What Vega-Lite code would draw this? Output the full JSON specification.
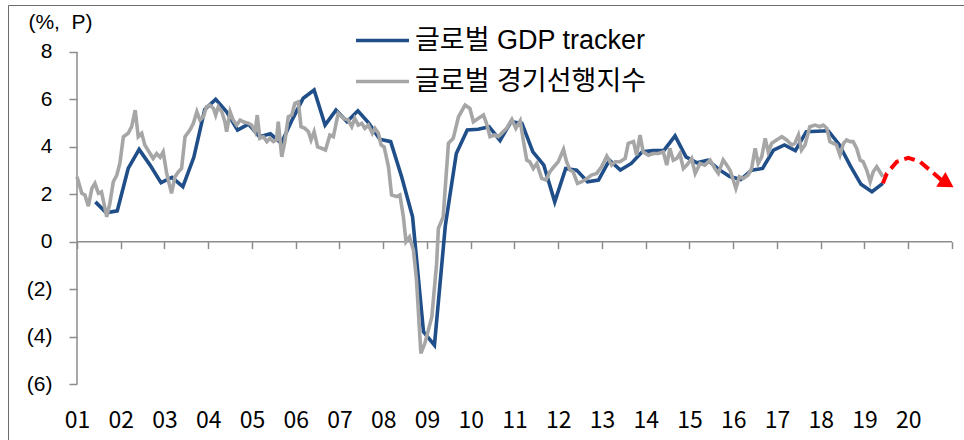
{
  "$schema": "https://vega.github.io/schema/vega-lite/v6.json",
  "width": 956,
  "height": 435,
  "autosize": {"type": "none"},
  "padding": {"left": 8, "top": 5, "right": 0, "bottom": 0},
  "background": "white",
  "config": {"view": {"stroke": "#6b6b6b", "strokeWidth": 1}},
  "datasets": {
    "gdp": [
      {"t": 2001.42, "v": 1.68}, {"t": 2001.67, "v": 1.22}, {"t": 2001.92, "v": 1.30},
      {"t": 2002.17, "v": 3.09}, {"t": 2002.42, "v": 3.89}, {"t": 2002.67, "v": 3.23}, {"t": 2002.92, "v": 2.49},
      {"t": 2003.17, "v": 2.71}, {"t": 2003.42, "v": 2.32}, {"t": 2003.67, "v": 3.56}, {"t": 2003.92, "v": 5.58},
      {"t": 2004.17, "v": 6.00}, {"t": 2004.42, "v": 5.48}, {"t": 2004.67, "v": 4.71}, {"t": 2004.92, "v": 4.96},
      {"t": 2005.17, "v": 4.43}, {"t": 2005.42, "v": 4.55}, {"t": 2005.67, "v": 4.15}, {"t": 2005.92, "v": 5.15},
      {"t": 2006.17, "v": 6.05}, {"t": 2006.42, "v": 6.40}, {"t": 2006.67, "v": 4.92}, {"t": 2006.92, "v": 5.55},
      {"t": 2007.17, "v": 5.06}, {"t": 2007.42, "v": 5.52}, {"t": 2007.67, "v": 5.00}, {"t": 2007.92, "v": 4.32},
      {"t": 2008.17, "v": 4.22}, {"t": 2008.42, "v": 2.74}, {"t": 2008.67, "v": 1.05}, {"t": 2008.92, "v": -3.80},
      {"t": 2009.17, "v": -4.36}, {"t": 2009.42, "v": 0.70}, {"t": 2009.67, "v": 3.72}, {"t": 2009.92, "v": 4.71},
      {"t": 2010.17, "v": 4.74}, {"t": 2010.42, "v": 4.85}, {"t": 2010.67, "v": 4.27}, {"t": 2010.92, "v": 5.06},
      {"t": 2011.17, "v": 4.99}, {"t": 2011.42, "v": 3.79}, {"t": 2011.67, "v": 3.23}, {"t": 2011.92, "v": 1.68},
      {"t": 2012.17, "v": 3.09}, {"t": 2012.42, "v": 3.02}, {"t": 2012.67, "v": 2.53}, {"t": 2012.92, "v": 2.60},
      {"t": 2013.17, "v": 3.44}, {"t": 2013.42, "v": 3.02}, {"t": 2013.67, "v": 3.30}, {"t": 2013.92, "v": 3.79},
      {"t": 2014.17, "v": 3.84}, {"t": 2014.42, "v": 3.86}, {"t": 2014.67, "v": 4.46}, {"t": 2014.92, "v": 3.58},
      {"t": 2015.17, "v": 3.33}, {"t": 2015.42, "v": 3.44}, {"t": 2015.67, "v": 3.05}, {"t": 2015.92, "v": 2.75},
      {"t": 2016.17, "v": 2.62}, {"t": 2016.42, "v": 3.02}, {"t": 2016.67, "v": 3.09}, {"t": 2016.92, "v": 3.86},
      {"t": 2017.17, "v": 4.08}, {"t": 2017.42, "v": 3.84}, {"t": 2017.67, "v": 4.64}, {"t": 2017.92, "v": 4.66},
      {"t": 2018.17, "v": 4.68}, {"t": 2018.42, "v": 4.10}, {"t": 2018.67, "v": 3.22}, {"t": 2018.92, "v": 2.42},
      {"t": 2019.17, "v": 2.11}, {"t": 2019.42, "v": 2.46}
    ],
    "lei": [
      {"t": 2001.00, "v": 2.74}, {"t": 2001.11, "v": 2.04}, {"t": 2001.18, "v": 1.97}, {"t": 2001.26, "v": 1.50},
      {"t": 2001.34, "v": 2.25}, {"t": 2001.41, "v": 2.46}, {"t": 2001.49, "v": 2.04}, {"t": 2001.56, "v": 2.10},
      {"t": 2001.60, "v": 1.75}, {"t": 2001.68, "v": 1.05}, {"t": 2001.75, "v": 1.60}, {"t": 2001.83, "v": 2.53},
      {"t": 2001.91, "v": 2.81}, {"t": 2001.98, "v": 3.30}, {"t": 2002.06, "v": 4.43}, {"t": 2002.17, "v": 4.57},
      {"t": 2002.25, "v": 4.85}, {"t": 2002.33, "v": 5.55}, {"t": 2002.40, "v": 4.43}, {"t": 2002.48, "v": 4.57},
      {"t": 2002.55, "v": 4.08}, {"t": 2002.67, "v": 3.72}, {"t": 2002.74, "v": 3.51}, {"t": 2002.82, "v": 3.72},
      {"t": 2002.90, "v": 3.56}, {"t": 2002.97, "v": 3.79}, {"t": 2003.05, "v": 2.88}, {"t": 2003.16, "v": 2.04},
      {"t": 2003.24, "v": 2.74}, {"t": 2003.32, "v": 2.95}, {"t": 2003.39, "v": 3.09}, {"t": 2003.47, "v": 4.43},
      {"t": 2003.58, "v": 4.71}, {"t": 2003.66, "v": 4.99}, {"t": 2003.74, "v": 5.48}, {"t": 2003.81, "v": 5.13},
      {"t": 2003.89, "v": 5.27}, {"t": 2003.96, "v": 5.69}, {"t": 2004.04, "v": 5.76}, {"t": 2004.12, "v": 5.62},
      {"t": 2004.17, "v": 5.34}, {"t": 2004.23, "v": 5.69}, {"t": 2004.31, "v": 5.48}, {"t": 2004.38, "v": 5.06},
      {"t": 2004.42, "v": 4.64}, {"t": 2004.50, "v": 5.48}, {"t": 2004.57, "v": 5.13}, {"t": 2004.65, "v": 4.92},
      {"t": 2004.73, "v": 5.13}, {"t": 2004.80, "v": 5.06}, {"t": 2004.92, "v": 4.99}, {"t": 2004.99, "v": 4.92},
      {"t": 2005.07, "v": 4.64}, {"t": 2005.12, "v": 5.34}, {"t": 2005.18, "v": 4.36}, {"t": 2005.26, "v": 4.43},
      {"t": 2005.34, "v": 4.22}, {"t": 2005.41, "v": 4.36}, {"t": 2005.49, "v": 4.22}, {"t": 2005.56, "v": 4.29},
      {"t": 2005.60, "v": 5.06}, {"t": 2005.68, "v": 3.58}, {"t": 2005.75, "v": 4.22}, {"t": 2005.83, "v": 5.27},
      {"t": 2005.91, "v": 5.34}, {"t": 2005.98, "v": 5.84}, {"t": 2006.06, "v": 5.90}, {"t": 2006.12, "v": 4.85},
      {"t": 2006.21, "v": 4.78}, {"t": 2006.29, "v": 4.64}, {"t": 2006.35, "v": 4.29}, {"t": 2006.42, "v": 4.64},
      {"t": 2006.50, "v": 4.00}, {"t": 2006.59, "v": 3.94}, {"t": 2006.68, "v": 3.87}, {"t": 2006.78, "v": 4.50},
      {"t": 2006.86, "v": 4.43}, {"t": 2006.97, "v": 5.41}, {"t": 2007.09, "v": 5.20}, {"t": 2007.20, "v": 5.13},
      {"t": 2007.28, "v": 4.85}, {"t": 2007.35, "v": 5.20}, {"t": 2007.43, "v": 4.92}, {"t": 2007.51, "v": 4.99},
      {"t": 2007.58, "v": 4.78}, {"t": 2007.66, "v": 4.92}, {"t": 2007.75, "v": 4.57}, {"t": 2007.81, "v": 4.78},
      {"t": 2007.89, "v": 4.57}, {"t": 2007.95, "v": 4.08}, {"t": 2008.02, "v": 4.00}, {"t": 2008.12, "v": 3.16},
      {"t": 2008.19, "v": 1.97}, {"t": 2008.31, "v": 1.90}, {"t": 2008.38, "v": 1.97}, {"t": 2008.46, "v": 1.05},
      {"t": 2008.52, "v": 0.00}, {"t": 2008.60, "v": 0.20}, {"t": 2008.69, "v": -0.35}, {"t": 2008.76, "v": -1.62},
      {"t": 2008.86, "v": -4.71}, {"t": 2008.95, "v": -4.29}, {"t": 2009.11, "v": -3.17}, {"t": 2009.22, "v": -0.92},
      {"t": 2009.26, "v": 0.56}, {"t": 2009.37, "v": 1.05}, {"t": 2009.49, "v": 4.15}, {"t": 2009.60, "v": 4.36},
      {"t": 2009.72, "v": 5.27}, {"t": 2009.87, "v": 5.76}, {"t": 2009.98, "v": 5.62}, {"t": 2010.06, "v": 5.06},
      {"t": 2010.17, "v": 5.20}, {"t": 2010.29, "v": 5.34}, {"t": 2010.36, "v": 4.99}, {"t": 2010.44, "v": 4.43},
      {"t": 2010.55, "v": 4.50}, {"t": 2010.63, "v": 4.43}, {"t": 2010.72, "v": 4.60}, {"t": 2010.82, "v": 4.78},
      {"t": 2010.94, "v": 5.16}, {"t": 2011.03, "v": 4.78}, {"t": 2011.13, "v": 5.10}, {"t": 2011.20, "v": 4.29},
      {"t": 2011.28, "v": 3.44}, {"t": 2011.35, "v": 3.37}, {"t": 2011.43, "v": 3.09}, {"t": 2011.51, "v": 3.30},
      {"t": 2011.62, "v": 2.67}, {"t": 2011.72, "v": 2.60}, {"t": 2011.81, "v": 2.95}, {"t": 2011.90, "v": 3.16},
      {"t": 2012.00, "v": 3.37}, {"t": 2012.12, "v": 3.89}, {"t": 2012.19, "v": 3.37}, {"t": 2012.27, "v": 3.02},
      {"t": 2012.34, "v": 2.95}, {"t": 2012.44, "v": 2.46}, {"t": 2012.54, "v": 2.53}, {"t": 2012.63, "v": 2.63},
      {"t": 2012.76, "v": 2.81}, {"t": 2012.88, "v": 2.88}, {"t": 2012.99, "v": 3.16}, {"t": 2013.11, "v": 3.61},
      {"t": 2013.22, "v": 3.23}, {"t": 2013.30, "v": 3.37}, {"t": 2013.41, "v": 3.37}, {"t": 2013.53, "v": 3.51},
      {"t": 2013.60, "v": 4.15}, {"t": 2013.72, "v": 4.22}, {"t": 2013.79, "v": 3.65}, {"t": 2013.87, "v": 4.50},
      {"t": 2013.94, "v": 3.79}, {"t": 2014.06, "v": 3.65}, {"t": 2014.17, "v": 3.72}, {"t": 2014.29, "v": 3.72},
      {"t": 2014.40, "v": 3.79}, {"t": 2014.48, "v": 3.23}, {"t": 2014.55, "v": 3.94}, {"t": 2014.63, "v": 3.44},
      {"t": 2014.71, "v": 3.51}, {"t": 2014.78, "v": 3.72}, {"t": 2014.86, "v": 3.09}, {"t": 2014.94, "v": 3.23},
      {"t": 2015.05, "v": 3.51}, {"t": 2015.13, "v": 2.88}, {"t": 2015.24, "v": 3.30}, {"t": 2015.35, "v": 3.23},
      {"t": 2015.47, "v": 3.44}, {"t": 2015.58, "v": 3.09}, {"t": 2015.66, "v": 2.88}, {"t": 2015.77, "v": 3.45},
      {"t": 2015.85, "v": 3.23}, {"t": 2015.93, "v": 3.00}, {"t": 2016.00, "v": 2.60}, {"t": 2016.06, "v": 2.25},
      {"t": 2016.14, "v": 2.74}, {"t": 2016.23, "v": 2.67}, {"t": 2016.34, "v": 2.81}, {"t": 2016.42, "v": 3.09},
      {"t": 2016.50, "v": 3.94}, {"t": 2016.57, "v": 3.30}, {"t": 2016.65, "v": 3.58}, {"t": 2016.73, "v": 4.36},
      {"t": 2016.80, "v": 3.79}, {"t": 2016.88, "v": 4.15}, {"t": 2016.99, "v": 4.29}, {"t": 2017.11, "v": 4.43},
      {"t": 2017.22, "v": 4.29}, {"t": 2017.34, "v": 4.08}, {"t": 2017.41, "v": 4.15}, {"t": 2017.49, "v": 4.50},
      {"t": 2017.56, "v": 3.87}, {"t": 2017.64, "v": 4.08}, {"t": 2017.75, "v": 4.85}, {"t": 2017.87, "v": 4.92},
      {"t": 2017.98, "v": 4.85}, {"t": 2018.06, "v": 4.92}, {"t": 2018.14, "v": 4.78}, {"t": 2018.21, "v": 4.22},
      {"t": 2018.29, "v": 4.15}, {"t": 2018.36, "v": 4.08}, {"t": 2018.44, "v": 3.65}, {"t": 2018.52, "v": 4.15},
      {"t": 2018.59, "v": 4.29}, {"t": 2018.67, "v": 4.22}, {"t": 2018.74, "v": 4.22}, {"t": 2018.82, "v": 3.94},
      {"t": 2018.90, "v": 3.44}, {"t": 2018.97, "v": 3.37}, {"t": 2019.05, "v": 3.02}, {"t": 2019.13, "v": 2.53},
      {"t": 2019.20, "v": 2.95}, {"t": 2019.28, "v": 3.16}, {"t": 2019.35, "v": 2.95}, {"t": 2019.42, "v": 2.74}
    ],
    "forecast": [
      {"t": 2019.42, "v": 2.46}, {"t": 2019.51, "v": 2.88}, {"t": 2019.74, "v": 3.37}, {"t": 2020.00, "v": 3.54},
      {"t": 2020.27, "v": 3.37}, {"t": 2020.54, "v": 2.95}, {"t": 2020.76, "v": 2.60}, {"t": 2020.89, "v": 2.46}
    ],
    "arrow": [{"t": 2020.89, "v": 2.46}]
  },
  "layer": [
    {
      "data": {"values": [{}]},
      "mark": {"type": "rule", "color": "#8c8c8c", "strokeWidth": 1.5},
      "encoding": {
        "x": {"datum": 2001, "type": "quantitative"},
        "y": {"datum": -6, "type": "quantitative"},
        "y2": {"datum": 8}
      }
    },
    {
      "data": {"values": [{}]},
      "mark": {"type": "rule", "color": "#8c8c8c", "strokeWidth": 1.5},
      "encoding": {
        "x": {"datum": 2001, "type": "quantitative"},
        "x2": {"datum": 2021},
        "y": {"datum": 0, "type": "quantitative"}
      }
    },
    {
      "data": {"name": "gdp"},
      "mark": {"type": "line", "strokeWidth": 3.6, "interpolate": "linear"},
      "encoding": {
        "x": {
          "field": "t", "type": "quantitative",
          "scale": {"domain": [1999.4229, 2021.2743], "nice": false, "zero": false},
          "axis": {
            "orient": "bottom", "offset": -198.4, "values": [2001,2002,2003,2004,2005,2006,2007,2008,2009,2010,2011,2012,2013,2014,2015,2016,2017,2018,2019,2020,2021],
            "domain": false, "grid": false, "ticks": true, "tickSize": 7, "tickColor": "#8c8c8c", "tickWidth": 1.5,
            "labelExpr": "datum.value > 2020 ? '' : format(datum.value - 2000, '02d')",
            "labelFont": "Noto Sans CJK KR", "labelFontSize": 23, "labelColor": "#000000",
            "labelBaseline": "middle", "labelPadding": 172, "labelFlush": false, "labelOverlap": false, "title": null
          }
        },
        "y": {
          "field": "v", "type": "quantitative",
          "scale": {"domain": [-8.3614, 9.9819], "nice": false, "zero": false},
          "axis": {
            "orient": "left", "offset": -69, "values": [-6,-4,-2,0,2,4,6,8],
            "domain": false, "grid": false, "ticks": true, "tickSize": 8, "tickColor": "#8c8c8c", "tickWidth": 1.5,
            "labelExpr": "datum.value < 0 ? '(' + abs(datum.value) + ')' : datum.value + '\u00a0'",
            "labelFont": "Liberation Sans", "labelFontSize": 21, "labelColor": "#000000", "labelPadding": 17,
            "title": "(%,\u00a0 P)", "titleAngle": 0, "titleX": -17, "titleY": 17, "titleAlign": "center", "titleBaseline": "middle",
            "titleFont": "Liberation Sans", "titleFontSize": 21, "titleFontWeight": "normal", "titleColor": "#000000"
          }
        },
        "color": {
          "datum": "글로벌 GDP tracker", "type": "nominal",
          "scale": {"domain": ["글로벌 GDP tracker", "글로벌 경기선행지수"], "range": ["#1F4E89", "#A6A6A6"]},
          "legend": {
            "orient": "none", "legendX": 359, "legendY": 20, "title": null, "padding": 0,
            "symbolType": "M-2,0H2", "symbolSize": 702, "symbolStrokeWidth": 3.6,
            "labelFont": "Liberation Sans, Noto Sans CJK KR", "labelFontSize": 27, "labelColor": "#000000",
            "labelOffset": 17, "rowPadding": 12, "labelLimit": 0
          }
        }
      }
    },
    {
      "data": {"name": "lei"},
      "mark": {"type": "line", "strokeWidth": 3.6, "interpolate": "linear"},
      "encoding": {
        "x": {"field": "t", "type": "quantitative"},
        "y": {"field": "v", "type": "quantitative"},
        "color": {"datum": "글로벌 경기선행지수", "type": "nominal"}
      }
    },
    {
      "data": {"name": "forecast"},
      "mark": {"type": "line", "strokeWidth": 4, "color": "#FF0000", "strokeDash": [11, 6]},
      "encoding": {
        "x": {"field": "t", "type": "quantitative"},
        "y": {"field": "v", "type": "quantitative"}
      }
    },
    {
      "data": {"name": "arrow"},
      "mark": {"type": "point", "shape": "triangle-right", "filled": true, "color": "#FF0000", "opacity": 1, "size": 300, "angle": 32},
      "encoding": {
        "x": {"field": "t", "type": "quantitative"},
        "y": {"field": "v", "type": "quantitative"}
      }
    }
  ]
}
